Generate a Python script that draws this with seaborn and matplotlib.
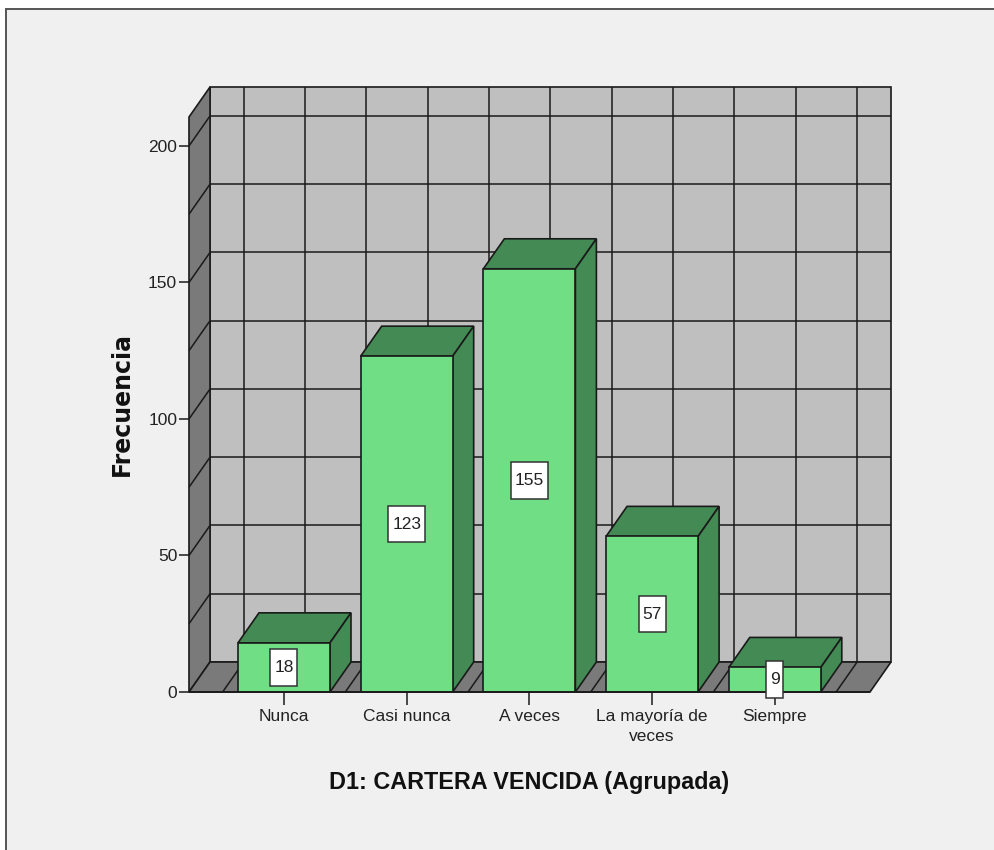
import numpy as np
import pandas as pd
import matplotlib
matplotlib.use('Agg')
import matplotlib.pyplot as plt
from matplotlib.patches import Polygon, Rectangle
from matplotlib.path import Path
import seaborn as sns

# --- data ---
categorias = ['Nunca', 'Casi nunca', 'A veces', 'La mayoría de\nveces', 'Siempre']
frecuencias = [18, 123, 155, 57, 9]
yticks = [0, 50, 100, 150, 200]

df = pd.DataFrame({'categoria': categorias, 'frecuencia': frecuencias})

# colours
bg = '#F0F0F0'
wall = '#BFBFBF'
side_wall = '#7A7A7A'
bar_front = '#70DE85'
bar_dark = '#438A54'
line = '#1A1A1A'

sns.set_theme(style='white')
plt.rcParams['font.family'] = ['Liberation Sans', 'DejaVu Sans']

W, H = 995, 850
fig = plt.figure(figsize=(W / 100, H / 100), dpi=100, facecolor='white')

# grey panel behind the chart (export is cut off at right and bottom)
fig.patches.append(Rectangle((6 / W, -0.05), 1.1, 1.05 - 9 / H, transform=fig.transFigure,
                             facecolor=bg, edgecolor='#555555', linewidth=1.4, zorder=-1))

# axes = front plane of the 3d box
ax = fig.add_axes([189 / W, 1 - 692 / H, (870 - 189) / W, (692 - 117) / H])
ax.patch.set_alpha(0)
for s in ax.spines.values():
    s.set_visible(False)

sns.barplot(data=df, x='categoria', y='frecuencia', ax=ax, color=bar_front, saturation=1,
            width=0.75, edgecolor=line, linewidth=1.2, zorder=5)

xmin, xmax = -0.774, 4.776
ymin, ymax = 0, 210.6
ax.set_xlim(xmin, xmax)
ax.set_ylim(ymin, ymax)

# depth of the box in data units
dx = 21 / 122.7
dy = 30 / 2.73


def face(points, fc, z, lw=1.2):
    ax.add_patch(Polygon(points, closed=True, facecolor=fc, edgecolor=line, linewidth=lw,
                         zorder=z, clip_on=False))


def seg(xs, ys, z=2, lw=1.1, color=line):
    ax.plot(xs, ys, color=color, linewidth=lw, zorder=z, clip_on=False, solid_capstyle='butt')


def label_box(x0, y0, w, h, mutation_size):
    # spss value boxes are taller than wide, so pad x and y apart
    px, py = 0.22 * mutation_size, 0.62 * mutation_size
    return Path([(x0 - px, y0 - py), (x0 + w + px, y0 - py), (x0 + w + px, y0 + h + py),
                 (x0 - px, y0 + h + py), (x0 - px, y0 - py)], closed=True)


# 3d faces of the bars, taken from the bars seaborn drew
bars = list(ax.patches[:len(categorias)])

# walls and floor
face([(xmin + dx, dy), (xmax + dx, dy), (xmax + dx, ymax + dy), (xmin + dx, ymax + dy)], wall, 1)
face([(xmin, ymin), (xmin + dx, dy), (xmin + dx, ymax + dy), (xmin, ymax)], side_wall, 1)
face([(xmin, ymin), (xmax, ymin), (xmax + dx, dy), (xmin + dx, dy)], side_wall, 1)

# grid on the walls
for v in np.arange(25, 201, 25):
    seg([xmin + dx, xmax + dx], [v + dy, v + dy])
    seg([xmin, xmin + dx], [v, v + dy])
for c in np.arange(-0.5, 4.6, 0.5):
    seg([c + dx, c + dx], [dy, ymax + dy])
    seg([c, c + dx], [0, dy])

for rect in bars:
    x0 = rect.get_x()
    x1 = x0 + rect.get_width()
    h = rect.get_height()
    face([(x0, h), (x1, h), (x1 + dx, h + dy), (x0 + dx, h + dy)], bar_dark, 4)
    face([(x1, 0), (x1 + dx, dy), (x1 + dx, h + dy), (x1, h)], bar_dark, 4)

seg([xmin, xmax], [0, 0], z=6, lw=1.3)

# value labels
for i, v in enumerate(frecuencias):
    ax.text(i, v / 2, str(v), ha='center', va='center', fontsize=12.5, color='#222222', zorder=8,
            bbox=dict(boxstyle=label_box, facecolor='white', edgecolor='#333333', linewidth=1.1))

# axes text
ax.set_yticks(yticks)
ax.set_xticks(range(len(categorias)))
ax.set_xticklabels(categorias, fontsize=12.5, color='#222222', linespacing=1.35)
ax.tick_params(axis='y', length=7, width=1.1, color=line, labelsize=12.5, labelcolor='#222222', pad=1.5, left=True)
ax.tick_params(axis='x', length=9, width=1.1, color=line, pad=3.5, bottom=True)

ax.set_xlabel('')
ax.set_ylabel('')
fig.text(529 / W, 1 - 782 / H, 'D1: CARTERA VENCIDA (Agrupada)', ha='center', va='center',
         fontsize=16.8, fontweight='bold', color='#111111')
fig.text(122 / W, 1 - 404 / H, 'Frecuencia', rotation=90, ha='center', va='center',
         fontsize=17, fontweight='bold', color='#111111', family='DejaVu Sans')

plt.savefig('out.png', dpi=100, facecolor=fig.get_facecolor())
